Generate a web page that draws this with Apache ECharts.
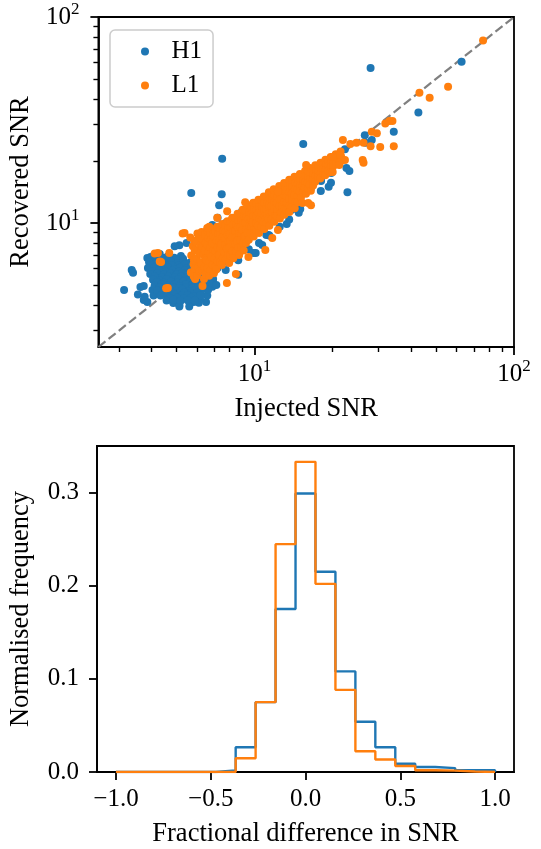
<!DOCTYPE html>
<html><head><meta charset="utf-8">
<script src="https://cdn.jsdelivr.net/npm/echarts@6/dist/echarts.min.js"></script>
<style>html,body{margin:0;padding:0;background:#fff}#c{width:541px;height:849px}</style>
</head><body><div id="c"></div>
<script>
// ---------------- data ----------------
const seriesNames = ['H1', 'L1'];

const h1Points = [
  // outliers / edges
  [28.0,56.5],[62.8,60.7],[42.8,34.4],[34.4,27.7],[26.6,26.7],[28.3,25.3],[15.4,24.2],[7.5,20.5],
  [5.7,14.0],[7.47,13.8],[7.3,12.2],[19.3,15.0],[22.8,14.1],[22.6,18.5],[23.2,17.9],[22.3,22.8],
  [26.8,24.5],[13.3,15.4],[14.9,16.9],[16.6,17.6],[13.3,9.9],[14.8,11.2],[13.9,11.6],[11.1,8.75],
  [11.3,8.74],[10.7,7.82],[10.1,7.15],[9.9,7.14],[8.65,5.6],[8.65,6.6],[7.74,5.91],[7.06,9.55],
  [7.74,10.0],[7.2,10.6],[6.87,9.78],[8.95,11.4],[10.2,12.0],[7.82,9.25],[5.13,7.8],[5.47,8.0],[4.92,7.7],
  // low-left periphery
  [3.14,4.73],[3.36,5.91],[3.40,5.73],[3.63,4.89],[3.74,4.95],[3.55,4.5],[3.74,4.23],[3.86,4.14],
  [3.77,4.39],[3.94,6.61],[4.12,6.86],[4.31,7.07],[3.86,6.76],[3.97,6.84],[4.08,4.45],[4.04,4.73],
  [4.24,4.56],[4.08,6.05],[4.28,5.68],[4.86,4.09],[5.13,4.0],[5.62,4.09],[5.83,4.14],[6.5,4.14],
  [5.13,4.4],[5.47,4.56],[6.16,4.3],[6.57,4.45],[6.38,4.89],[4.78,4.23],[5.13,3.93],[5.6,3.93],
  [6.1,4.1],[6.3,4.9],[6.87,4.9],[4.49,6.76],[4.16,6.84],
  // core cluster
  [4.05,6.9],[4.35,6.8],[4.62,6.88],[4.9,6.78],[5.2,6.92],
  [4.1,6.65],[4.4,6.6],[4.7,6.68],[5.0,6.62],[5.3,6.7],
  [3.92,6.45],[4.2,6.5],[4.48,6.4],[4.76,6.48],[5.04,6.38],[5.32,6.5],[5.62,6.42],
  [3.98,6.25],[4.25,6.28],[4.52,6.2],[4.8,6.26],[5.08,6.2],[5.38,6.28],[5.7,6.22],
  [3.88,6.05],[4.12,6.1],[4.38,6.0],[4.64,6.08],[4.9,5.98],[5.16,6.06],[5.44,6.0],[5.72,6.1],[6.02,6.02],
  [4.02,5.85],[4.28,5.88],[4.55,5.8],[4.82,5.86],[5.1,5.8],[5.38,5.88],[5.68,5.82],[6.0,5.85],[6.3,5.8],
  [3.96,5.65],[4.22,5.7],[4.48,5.62],[4.74,5.68],[5.0,5.6],[5.26,5.7],[5.54,5.62],[5.84,5.68],[6.14,5.6],[6.45,5.66],
  [4.12,5.48],[4.4,5.45],[4.66,5.5],[4.94,5.44],[5.22,5.5],[5.5,5.46],[5.8,5.5],[6.1,5.44],[6.42,5.5],[6.76,5.45],
  [4.06,5.3],[4.32,5.25],[4.58,5.33],[4.84,5.27],[5.1,5.35],[5.36,5.26],[5.64,5.32],[5.94,5.25],[6.24,5.33],[6.58,5.28],[6.92,5.34],
  [4.2,5.15],[4.48,5.12],[4.76,5.18],[5.04,5.12],[5.32,5.18],[5.6,5.12],[5.9,5.18],[6.22,5.12],[6.56,5.18],[6.92,5.14],
  [4.12,4.98],[4.38,5.04],[4.64,4.96],[4.9,5.02],[5.16,4.95],[5.44,5.03],[5.74,4.97],[6.04,5.04],[6.38,4.98],[6.74,5.05],[7.12,5.0],
  [4.3,4.85],[4.58,4.82],[4.86,4.88],[5.14,4.83],[5.44,4.87],[5.74,4.82],[6.06,4.86],[6.42,4.82],
  [4.22,4.7],[4.48,4.66],[4.74,4.72],[5.0,4.68],[5.28,4.74],[5.58,4.66],[5.88,4.72],[6.22,4.68],[6.62,4.74],
  [4.46,4.57],[4.76,4.6],[5.06,4.55],[5.36,4.6],[5.68,4.56],[6.0,4.58],
  [4.34,4.45],[4.62,4.42],[4.92,4.48],[5.22,4.43],[5.52,4.47],[5.82,4.42],[6.18,4.46],
  [4.72,4.32],[5.02,4.34],[5.34,4.3],[5.68,4.33],
  [4.58,4.2],[4.88,4.24],[5.18,4.18],[5.52,4.22],[5.88,4.2],
  // along the band (mostly under L1)
  [6.6,5.85],[6.64,6.55],[6.56,7.6],[7.2,6.05],[7.24,7.0],[7.16,8.2],[7.9,6.45],[7.94,7.5],[7.86,8.8],
  [8.6,6.9],[8.64,8.1],[8.56,9.4],[9.5,7.45],[9.54,8.8],[9.46,10.2],[10.4,8.0],[10.44,9.5],[10.36,11.0],
  [11.4,8.7],[11.44,10.3],[11.36,12.0],[12.5,9.6],[12.54,11.2],[12.46,13.0],[13.6,10.4],[13.64,12.2],
  [13.56,14.0],[15.0,11.7],[15.04,13.4],[14.96,15.2],[16.44,14.6],[16.36,16.5],[18.0,14.3],[18.04,16.0],
  [17.96,17.8],[19.7,15.7],[19.74,17.5]
];

const l1Points = [
  // dense band
  [5.65,8.5],[5.78,7.7],[5.7,6.95],[5.82,6.3],[5.68,5.75],[5.9,5.35],
  [5.85,8.2],[5.88,7.35],[5.84,6.6],[5.87,6.0],[5.83,5.5],
  [6.02,8.9],[5.95,8.1],[6.05,7.4],[5.98,6.75],[6.08,6.1],[6.0,5.55],
  [6.15,8.6],[6.18,7.8],[6.13,7.1],[6.16,6.45],[6.12,5.85],
  [6.25,9.05],[6.32,8.35],[6.28,7.65],[6.35,7.0],[6.22,6.4],[6.3,5.85],[6.38,5.35],
  [6.45,8.8],[6.48,8.0],[6.43,7.35],[6.46,6.7],[6.42,6.1],[6.47,5.6],
  [6.55,9.2],[6.62,8.45],[6.58,7.8],[6.65,7.2],[6.52,6.6],[6.6,6.05],[6.68,5.55],
  [6.75,8.95],[6.78,8.3],[6.73,7.6],[6.76,7.05],[6.72,6.5],[6.77,5.9],
  [6.85,9.35],[6.92,8.65],[6.88,8.0],[6.95,7.4],[6.82,6.85],[6.9,6.25],[6.97,5.7],
  [7.05,9.2],[7.08,8.5],[7.03,7.9],[7.06,7.3],[7.02,6.7],[7.07,6.15],
  [7.18,9.6],[7.25,8.85],[7.15,8.2],[7.22,7.6],[7.28,7.0],[7.2,6.5],[7.12,5.95],
  [7.35,9.45],[7.38,8.8],[7.33,8.15],[7.36,7.6],[7.32,7.0],[7.37,6.45],
  [7.5,9.9],[7.58,9.15],[7.52,8.5],[7.45,7.9],[7.6,7.3],[7.55,6.75],[7.48,6.25],
  [7.7,9.75],[7.73,9.05],[7.68,8.4],[7.71,7.8],[7.67,7.2],[7.72,6.65],
  [7.85,10.2],[7.92,9.45],[7.88,8.75],[7.95,8.1],[7.82,7.5],[7.9,7.0],[7.98,6.4],
  [8.05,10.2],[8.08,9.5],[8.03,8.8],[8.06,8.2],[8.02,7.6],[8.07,7.0],
  [8.2,10.6],[8.3,9.85],[8.25,9.1],[8.18,8.5],[8.32,7.9],[8.22,7.3],[8.28,6.75],
  [8.45,10.55],[8.48,9.8],[8.43,9.15],[8.46,8.5],[8.42,7.9],[8.47,7.3],
  [8.6,11.1],[8.68,10.25],[8.62,9.5],[8.7,8.85],[8.58,8.2],[8.66,7.6],[8.72,7.0],
  [8.85,11.0],[8.88,10.25],[8.83,9.55],[8.86,8.9],[8.82,8.25],[8.87,7.6],
  [9.0,11.6],[9.1,10.75],[9.05,9.95],[8.98,9.25],[9.12,8.6],[9.02,7.95],[9.08,7.35],
  [9.25,11.5],[9.28,10.7],[9.23,10.0],[9.26,9.3],[9.22,8.65],[9.27,8.0],
  [9.45,12.2],[9.52,11.25],[9.48,10.45],[9.55,9.65],[9.42,8.95],[9.5,8.3],
  [9.7,11.95],[9.73,11.1],[9.68,10.35],[9.71,9.6],[9.67,8.9],
  [9.88,12.55],[9.95,11.65],[9.9,10.8],[9.85,10.05],[9.98,9.3],[9.92,8.6],
  [10.15,12.4],[10.18,11.55],[10.13,10.75],[10.16,10.0],[10.12,9.25],
  [10.35,12.95],[10.42,12.0],[10.38,11.2],[10.45,10.45],[10.3,9.7],[10.4,8.95],
  [10.65,12.85],[10.68,12.0],[10.63,11.15],[10.66,10.35],[10.62,9.6],
  [10.85,13.45],[10.92,12.5],[10.88,11.6],[10.95,10.8],[10.82,10.05],[10.9,9.35],
  [11.15,13.4],[11.18,12.5],[11.13,11.6],[11.16,10.8],[11.12,10.0],
  [11.35,14.1],[11.45,13.1],[11.38,12.15],[11.42,11.25],[11.32,10.45],[11.4,9.7],
  [11.65,13.95],[11.68,13.0],[11.63,12.1],[11.66,11.2],[11.62,10.4],
  [11.85,14.6],[11.95,13.6],[11.9,12.6],[11.88,11.7],[11.98,10.85],[11.92,10.15],
  [12.2,14.4],[12.23,13.4],[12.18,12.5],[12.21,11.6],[12.17,10.8],
  [12.45,15.1],[12.55,14.05],[12.5,13.05],[12.48,12.1],[12.58,11.25],[12.52,10.5],
  [12.75,14.95],[12.78,13.95],[12.73,13.0],[12.76,12.1],[12.72,11.2],
  [13.0,15.65],[13.1,14.6],[13.05,13.6],[12.98,12.6],[13.08,11.7],[13.02,10.95],
  [13.3,15.5],[13.33,14.45],[13.28,13.45],[13.31,12.5],[13.27,11.6],
  [13.6,16.2],[13.7,15.1],[13.65,14.1],[13.58,13.1],[13.68,12.15],[13.62,11.3],
  [13.95,16.0],[13.98,14.95],[13.93,13.95],[13.96,13.0],[13.92,12.0],
  [14.25,16.75],[14.35,15.65],[14.3,14.6],[14.22,13.6],[14.38,12.65],[14.28,11.8],
  [14.65,16.55],[14.68,15.5],[14.63,14.5],[14.66,13.5],[14.62,12.6],
  [14.95,17.3],[15.05,16.2],[15.0,15.2],[14.92,14.2],[15.08,13.25],
  [15.35,17.1],[15.38,16.1],[15.33,15.1],[15.36,14.1],
  [15.65,17.9],[15.75,16.8],[15.7,15.8],[15.62,14.8],[15.78,13.85],
  [16.05,17.75],[16.08,16.7],[16.03,15.65],[16.06,14.7],
  [16.35,18.5],[16.45,17.35],[16.4,16.3],[16.32,15.3],[16.48,14.35],
  [16.8,18.3],[16.83,17.2],[16.78,16.2],[16.81,15.2],
  [17.15,19.05],[17.25,17.95],[17.2,16.9],[17.12,15.85],
  [17.6,18.85],[17.63,17.8],[17.58,16.8],
  [17.95,19.6],[18.05,18.5],[18.0,17.45],[17.92,16.45],
  [18.4,19.4],[18.43,18.35],[18.38,17.3],
  [18.75,20.3],[18.85,19.2],[18.8,18.1],[18.72,17.05],
  [19.25,20.1],[19.28,19.0],[19.23,17.9],
  [19.65,20.9],[19.75,19.85],[19.7,18.75],[19.62,17.65],
  [20.1,20.8],[20.13,19.7],[20.08,18.8],
  [20.55,21.55],[20.65,20.45],[20.6,19.35],
  [21.0,21.4],[21.03,20.4],
  [21.45,22.25],[21.55,21.05],[21.5,19.95],
  // sparse points and outliers
  [4.12,7.1],[4.31,6.5],[4.56,4.82],[5.28,8.9],[6.3,4.95],[6.69,9.6],[7.18,10.6],
  [5.37,8.94],[4.69,7.15],[4.36,6.47],[4.24,7.15],[4.63,4.84],[7.82,5.11],[8.47,5.65],[9.47,6.84],
  [11.7,8.45],[7.84,11.4],[9.2,12.6],[6.57,9.45],[11.0,7.39],[12.3,9.25],[12.3,14.2],
  [15.3,12.5],[16.5,12.2],[16.1,12.5],[15.8,19.1],
  [20.0,17.7],[21.2,19.1],[20.0,20.9],[21.4,21.4],[22.3,20.2],[21.9,25.3],[23.4,24.2],[24.7,24.5],
  [26.3,24.5],[26.1,20.2],[26.3,19.6],[28.0,23.6],[28.3,27.7],[29.6,27.3],[30.5,23.4],[34.4,23.6],
  [33.1,31.3],[34.0,31.3],[31.9,30.4],[43.2,42.9],[47.3,40.6],[55.7,45.9],[76.0,77.0]
];

const diagLine = [[2.5, 2.5], [100, 100]];
const logMajorTicks = [10, 100];
const logMinorTicks = [3, 4, 5, 6, 7, 8, 9, 20, 30, 40, 50, 60, 70, 80, 90];

const binEdges = [-1, -0.8947, -0.7895, -0.6842, -0.5789, -0.4737, -0.3684, -0.2632, -0.1579, -0.0526,
                  0.0526, 0.1579, 0.2632, 0.3684, 0.4737, 0.5789, 0.6842, 0.7895, 0.8947, 1];
const h1Hist = [0, 0, 0, 0, 0, 0.0018, 0.0265, 0.075, 0.175, 0.299, 0.215, 0.108, 0.054, 0.0265,
                0.0088, 0.0053, 0.0042, 0.0018, 0.0018];
const l1Hist = [0, 0, 0, 0, 0, 0, 0.0148, 0.075, 0.2446, 0.333, 0.202, 0.0882, 0.0222, 0.0134,
                0.0064, 0.0018, 0.0015, 0.0005, 0];
const histXTicks = [-1, -0.5, 0, 0.5, 1];
const histYTicks = [0, 0.1, 0.2, 0.3];

// ---------------- styling ----------------
const FONT = 'Liberation Serif';
const FS = 25;      // tick labels / legend
const NFS = 26.5;   // axis names
const BLUE = '#1f77b4', ORANGE = '#ff7f0e';
const AXW = 1.8;

function stepOutline(edges, h) {
  const out = [[edges[0], 0]];
  for (let i = 0; i < h.length; i++) {
    out.push([edges[i], h[i]]);
    out.push([edges[i + 1], h[i]]);
  }
  out.push([edges[edges.length - 1], 0]);
  return out;
}

const powRich = {
  b: { fontFamily: FONT, fontSize: FS, lineHeight: 32, color: '#000' },
  s: { fontFamily: FONT, fontSize: 17, lineHeight: 17, verticalAlign: 'top', color: '#000' }
};
const powFmt = v => '{b|10}{s|' + Math.round(Math.log10(v)) + '}';

function logAxis(gridIndex, isX, name, nameGap) {
  const base = {
    type: 'log', logBase: 10, gridIndex, min: 2.5, max: 100,
    position: isX ? 'bottom' : 'left',
    axisLine: { show: true, onZero: false, lineStyle: { color: '#000', width: AXW } },
    axisTick: { show: true, length: 8, lineStyle: { color: '#000', width: AXW }, customValues: logMajorTicks },
    axisLabel: { customValues: logMajorTicks, formatter: powFmt, rich: powRich, margin: isX ? 11 : 19, color: '#000' },
    splitLine: { show: false }, minorTick: { show: false }, minorSplitLine: { show: false },
    name, nameLocation: 'middle', nameGap,
    nameTextStyle: { fontFamily: FONT, fontSize: NFS, color: '#000' }
  };
  const minor = {
    type: 'log', logBase: 10, gridIndex, min: 2.5, max: 100,
    position: isX ? 'bottom' : 'left',
    axisLine: { show: false, onZero: false },
    axisTick: { show: true, length: 5, lineStyle: { color: '#000', width: 1.4 }, customValues: logMinorTicks },
    axisLabel: { show: false },
    splitLine: { show: false }, minorTick: { show: false }
  };
  return [base, minor];
}

const topX = logAxis(0, true, 'Injected SNR', 49);
const topY = logAxis(0, false, 'Recovered SNR', 62);

const option = {
  animation: false,
  backgroundColor: '#fff',
  textStyle: { fontFamily: FONT },
  grid: [
    { left: 97, top: 17, width: 417, height: 330, show: true, borderColor: '#000', borderWidth: AXW, containLabel: false },
    { left: 97, top: 446, width: 417, height: 331, show: true, borderColor: '#000', borderWidth: AXW, containLabel: false }
  ],
  legend: {
    data: seriesNames,
    orient: 'vertical', left: 110, top: 30,
    padding: [9, 11, 9, 31], itemGap: 9,
    itemWidth: 43, itemHeight: 8,
    borderColor: '#cccccc', borderWidth: 1.5, borderRadius: 5,
    backgroundColor: 'rgba(255,255,255,0.8)',
    selectedMode: false,
    textStyle: { fontFamily: FONT, fontSize: FS, color: '#000', lineHeight: 24 }
  },
  xAxis: [
    topX[0], topX[1],
    {
      type: 'value', gridIndex: 1, min: -1.1, max: 1.1, position: 'bottom',
      axisLine: { show: true, onZero: false, lineStyle: { color: '#000', width: AXW } },
      axisTick: { show: true, length: 8, lineStyle: { color: '#000', width: AXW }, customValues: histXTicks },
      axisLabel: { customValues: histXTicks, margin: 15, color: '#000', fontFamily: FONT, fontSize: FS,
        formatter: v => (v < 0 ? '\u2212' : '') + Math.abs(v).toFixed(1) },
      splitLine: { show: false },
      name: 'Fractional difference in SNR', nameLocation: 'middle', nameGap: 49,
      nameTextStyle: { fontFamily: FONT, fontSize: NFS, color: '#000' }
    }
  ],
  yAxis: [
    topY[0], topY[1],
    {
      type: 'value', gridIndex: 1, min: 0, max: 0.35, position: 'left',
      axisLine: { show: true, onZero: false, lineStyle: { color: '#000', width: AXW } },
      axisTick: { show: true, length: 8, lineStyle: { color: '#000', width: AXW }, customValues: histYTicks },
      axisLabel: { customValues: histYTicks, margin: 18, color: '#000', fontFamily: FONT, fontSize: FS,
        formatter: v => v.toFixed(1) },
      splitLine: { show: false },
      name: 'Normalised frequency', nameLocation: 'middle', nameGap: 62,
      nameTextStyle: { fontFamily: FONT, fontSize: NFS, color: '#000' }
    }
  ],
  series: [
    { type: 'line', name: 'diag', xAxisIndex: 0, yAxisIndex: 0, data: diagLine, symbol: 'none', silent: true,
      lineStyle: { color: '#808080', width: 2.2, type: [9, 4] }, z: 1 },
    { type: 'scatter', name: seriesNames[0], xAxisIndex: 0, yAxisIndex: 0, data: h1Points,
      symbol: 'circle', symbolSize: 8, itemStyle: { color: BLUE, opacity: 1 }, z: 2 },
    { type: 'scatter', name: seriesNames[1], xAxisIndex: 0, yAxisIndex: 0, data: l1Points,
      symbol: 'circle', symbolSize: 8, itemStyle: { color: ORANGE, opacity: 1 }, z: 3 },
    { type: 'line', name: 'H1 hist', xAxisIndex: 2, yAxisIndex: 2, data: stepOutline(binEdges, h1Hist),
      symbol: 'none', silent: true, lineStyle: { color: BLUE, width: 2.4 }, z: 2 },
    { type: 'line', name: 'L1 hist', xAxisIndex: 2, yAxisIndex: 2, data: stepOutline(binEdges, l1Hist),
      symbol: 'none', silent: true, lineStyle: { color: ORANGE, width: 2.4 }, z: 3 }
  ]
};

const chart = echarts.init(document.getElementById('c'), null, { renderer: 'canvas' });
chart.setOption(option);
</script>
</body></html>
